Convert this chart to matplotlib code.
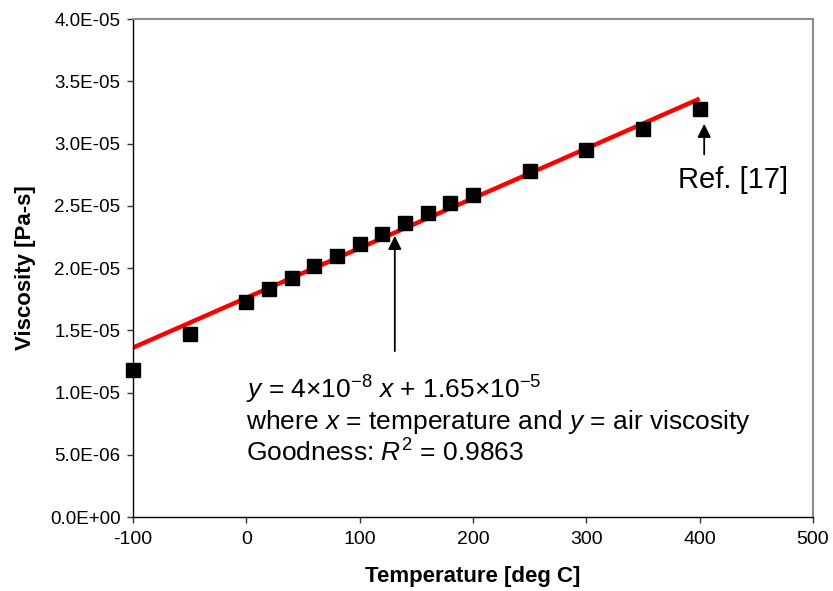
import matplotlib
matplotlib.use("Agg")
import matplotlib.pyplot as plt
from matplotlib.ticker import FuncFormatter

# Data
temperature = [-100, -50, 0, 20, 40, 60, 80, 100, 120, 140, 160, 180, 200, 250, 300, 350, 400]
viscosity = [1.18e-5, 1.47e-5, 1.73e-5, 1.83e-5, 1.92e-5, 2.02e-5, 2.10e-5, 2.19e-5, 2.27e-5,
             2.36e-5, 2.44e-5, 2.52e-5, 2.59e-5, 2.78e-5, 2.95e-5, 3.12e-5, 3.28e-5]
fit_x = [-100, 400]
fit_y = [1.36e-5, 3.36e-5]
x_ticks = [-100, 0, 100, 200, 300, 400, 500]
y_ticks = [0, 5e-6, 1e-5, 1.5e-5, 2e-5, 2.5e-5, 3e-5, 3.5e-5, 4e-5]

plt.rcParams['font.family'] = ['Liberation Sans', 'DejaVu Sans']
plt.rcParams['axes.unicode_minus'] = False
plt.rcParams['mathtext.fontset'] = 'custom'
plt.rcParams['mathtext.rm'] = 'Liberation Sans'
plt.rcParams['mathtext.it'] = 'Liberation Sans:italic'

fig = plt.figure(figsize=(8.33, 5.91), dpi=100)
ax = fig.add_axes([133/833, 1-517/591, (813-133)/833, (517-19)/591])

ax.plot(fit_x, fit_y, color='#ff0000', lw=3.2, solid_capstyle='butt', zorder=2)
ax.plot(temperature, viscosity, 's', color='black', markersize=10, zorder=3, clip_on=False)

ax.set_xlim(-100, 500)
ax.set_ylim(0, 4e-5)
ax.set_xticks(x_ticks)
ax.set_yticks(y_ticks)
ax.yaxis.set_major_formatter(FuncFormatter(lambda v, p: f"{v:.1E}"))
ax.xaxis.set_major_formatter(FuncFormatter(lambda v, p: f"{int(v)}"))
ax.tick_params(direction='out', length=4, width=1, color='#333333', pad=4)
ax.tick_params(axis='y', labelsize=13.5, pad=5)
ax.tick_params(axis='x', labelsize=14, pad=6)

for s in ['left', 'bottom']:
    ax.spines[s].set_color('black')
    ax.spines[s].set_linewidth(1)
for s in ['top', 'right']:
    ax.spines[s].set_color('#8c8c8c')
    ax.spines[s].set_linewidth(1.5)

ax.set_xlabel('Temperature [deg C]', fontsize=16, fontweight='bold')
ax.xaxis.set_label_coords(0.5, -(566 - 517) / 498)
ax.set_ylabel('Viscosity [Pa-s]', fontsize=16, fontweight='bold')
ax.yaxis.set_label_coords(-(133 - 36) / 680, 0.5)

# Arrows
ax.annotate('', xy=(131, 2.28e-5), xytext=(131, 1.31e-5),
            arrowprops=dict(arrowstyle='-|>', color='black', lw=1.3, mutation_scale=20))
ax.annotate('', xy=(404, 3.18e-5), xytext=(404, 2.89e-5),
            arrowprops=dict(arrowstyle='-|>', color='black', lw=1.3, mutation_scale=20))

ax.text(381, 2.71e-5, 'Ref. [17]', fontsize=21, ha='left', va='center')

ax.text(0, 1.02e-5, r'$y$ = 4×10$^{-8}$ $x$ + 1.65×10$^{-5}$', fontsize=19, ha='left', va='center')
ax.text(0, 0.763e-5, r'where $x$ = temperature and $y$ = air viscosity', fontsize=19, ha='left', va='center')
ax.text(0, 0.514e-5, r'Goodness: $R^2$ = 0.9863', fontsize=19, ha='left', va='center')

fig.savefig('out.png', dpi=100)
